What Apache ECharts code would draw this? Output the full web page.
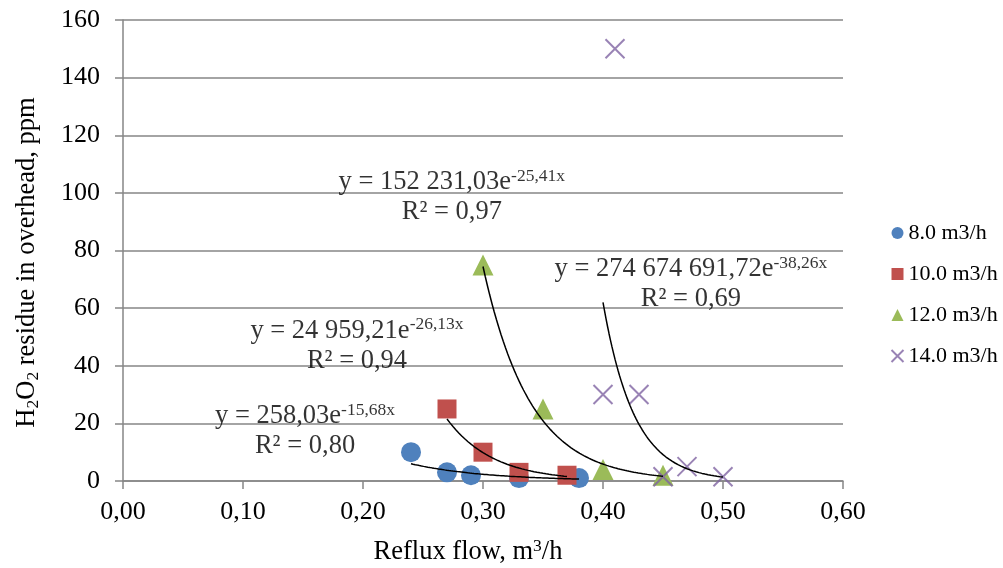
<!DOCTYPE html>
<html><head><meta charset="utf-8">
<script src="https://cdn.jsdelivr.net/npm/echarts@6/dist/echarts.min.js"></script>
<style>html,body{margin:0;padding:0;background:#fff}#c{width:1003px;height:568px}</style>
</head><body><div id="c"></div>
<script>
// ---- data ----
const seriesNames = ['8.0 m3/h', '10.0 m3/h', '12.0 m3/h', '14.0 m3/h'];
const flow8  = [[0.24, 10], [0.27, 3], [0.29, 2], [0.33, 1], [0.38, 1]];
const flow10 = [[0.27, 25], [0.30, 10], [0.33, 3], [0.37, 2]];
const flow12 = [[0.30, 75], [0.35, 25], [0.40, 4], [0.45, 2]];
const flow14 = [[0.41, 150], [0.40, 30], [0.43, 30], [0.45, 1.5], [0.47, 5], [0.50, 1.5]];
// exponential trendlines y = a*e^(b*x), coefficients as printed on the chart
const trendA = [258.03, 24959.21, 152231.03, 274674691.72];
const trendB = [-15.68, -26.13, -25.41, -38.26];
const eqCoefText = ['258,03', '24 959,21', '152 231,03', '274 674 691,72'];
const eqExpText = ['-15,68x', '-26,13x', '-25,41x', '-38,26x'];
const eqR2Text = ['0,80', '0,94', '0,97', '0,69'];
const eqAnchor = [[0.1517, 17.2], [0.195, 47.0], [0.274, 98.4], [0.4733, 68.4]];
const xTickLabels = ['0,00', '0,10', '0,20', '0,30', '0,40', '0,50', '0,60'];
const yTicks = [0, 20, 40, 60, 80, 100, 120, 140, 160];

const allData = [flow8, flow10, flow12, flow14];
const colors = ['#4F81BD', '#C0504D', '#9BBB59', '#8064A2'];
const symbols = ['circle', 'rect', 'triangle', 'path://M0,0L10,10M10,0L0,10'];
const symbolSizes = [20, 19, 21, 19];
const FONT = "'Liberation Serif', 'Times New Roman', serif";

function trendPoints(i) {
  const xs = allData[i].map(d => d[0]);
  const x0 = Math.min.apply(null, xs), x1 = Math.max.apply(null, xs);
  const pts = [];
  const n = 80;
  for (let k = 0; k <= n; k++) {
    const x = x0 + (x1 - x0) * k / n;
    pts.push([x, trendA[i] * Math.exp(trendB[i] * x)]);
  }
  return pts;
}

const series = [];
allData.forEach((d, i) => {
  const isX = i === 3;
  series.push({
    name: seriesNames[i], type: 'scatter', data: d,
    symbol: symbols[i], symbolSize: symbolSizes[i], z: 2,
    itemStyle: isX ? { color: 'none', borderColor: colors[i], borderWidth: 2 } : { color: colors[i], opacity: 1 }
  });
});
allData.forEach((d, i) => {
  series.push({
    name: 'trend' + i, type: 'line', data: trendPoints(i), showSymbol: false, silent: true, z: 3,
    lineStyle: { color: '#000', width: 1.5 }
  });
});
series.push({
  name: 'equations', type: 'scatter', silent: true, symbolSize: 1, z: 4,
  itemStyle: { color: 'transparent' },
  data: eqAnchor.map((p, i) => ({
    value: p,
    label: {
      show: true, position: 'inside',
      formatter: '{n|y = ' + eqCoefText[i] + 'e}{s|' + eqExpText[i] + '}\n{n|R² = ' + eqR2Text[i] + '}',
      align: 'center', verticalAlign: 'middle',
      rich: {
        n: { fontFamily: FONT, fontSize: 26.5, lineHeight: 30, color: '#000' },
        s: { fontFamily: FONT, fontSize: 17.5, lineHeight: 20, verticalAlign: 'top', color: '#000' }
      }
    }
  }))
});

const chart = echarts.init(document.getElementById('c'), null, { renderer: 'canvas' });
chart.setOption({
  animation: false,
  backgroundColor: '#fff',
  grid: { left: 123, right: 160, top: 20, bottom: 87, outerBoundsMode: 'none' },
  legend: {
    orient: 'vertical', left: 884, top: 217, itemWidth: 12, itemHeight: 12, itemGap: 19,
    textStyle: { fontFamily: FONT, fontSize: 22, lineHeight: 22, color: '#000' },
    data: seriesNames.map((n, i) => i === 3
      ? { name: n, itemStyle: { color: 'none', borderColor: colors[i], borderWidth: 2 } }
      : { name: n })
  },
  xAxis: {
    type: 'value', min: 0, max: 0.6, interval: 0.1,
    name: '{n|Reflux flow, m}{s|3}{n|/h}', nameLocation: 'middle', nameGap: 56,
    nameTextStyle: {
      padding: [0, 30, 0, 0],
      rich: {
        n: { fontFamily: FONT, fontSize: 26.5, lineHeight: 30, color: '#000' },
        s: { fontFamily: FONT, fontSize: 17.5, lineHeight: 20, verticalAlign: 'top', color: '#000' }
      }
    },
    axisLine: { show: true, lineStyle: { color: '#868686', width: 1.5 } },
    axisTick: { show: true, inside: false, length: 8, lineStyle: { color: '#868686', width: 1.5 } },
    splitLine: { show: false },
    axisLabel: {
      margin: 18, fontFamily: FONT, fontSize: 26, color: '#000',
      formatter: v => xTickLabels[Math.round(v * 10)]
    }
  },
  yAxis: {
    type: 'value', min: 0, max: 160, interval: 20,
    name: '{n|H}{b|2}{n|O}{b|2}{n| residue in overhead, ppm}', nameLocation: 'middle', nameGap: 81, nameRotate: 90,
    nameTextStyle: {
      padding: [0, 24, 0, 0],
      rich: {
        n: { fontFamily: FONT, fontSize: 26.5, lineHeight: 30, color: '#000' },
        b: { fontFamily: FONT, fontSize: 17.5, lineHeight: 4, verticalAlign: 'bottom', color: '#000' }
      }
    },
    axisLine: { show: true, lineStyle: { color: '#868686', width: 1.5 } },
    axisTick: { show: true, inside: false, length: 8, lineStyle: { color: '#868686', width: 1.5 } },
    splitLine: { show: true, lineStyle: { color: '#868686', width: 1.5 } },
    axisLabel: {
      margin: 23, fontFamily: FONT, fontSize: 26, color: '#000',
      formatter: v => (yTicks.indexOf(v) >= 0 ? String(v) : '')
    }
  },
  series: series
});
</script>
</body></html>
